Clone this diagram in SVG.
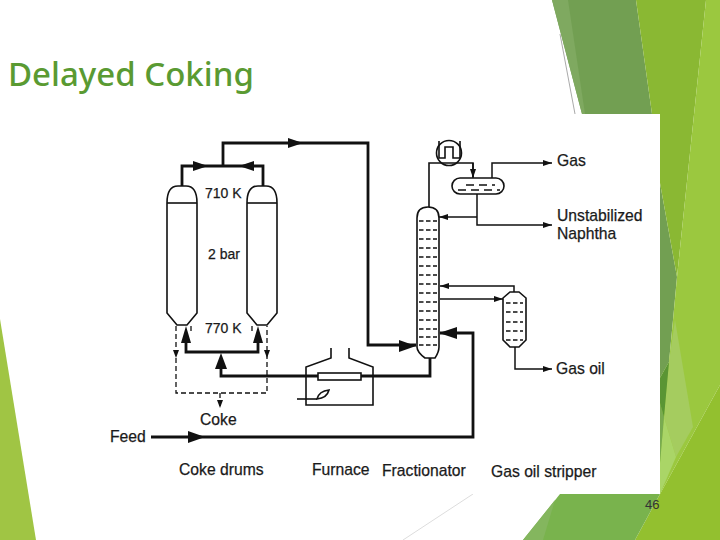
<svg xmlns="http://www.w3.org/2000/svg" width="720" height="540" viewBox="0 0 720 540">
<defs>
<marker id="a" markerUnits="userSpaceOnUse" markerWidth="10" markerHeight="8" refX="9" refY="4" orient="auto"><path d="M0 1 L9 4 L0 7Z" fill="#111"/></marker>
</defs>
<style>
.t{font-family:"Liberation Sans",Arial,sans-serif;font-size:15.7px;fill:#1a1a1a;stroke:#1a1a1a;stroke-width:.25}
.s{font-size:14px}
.v{fill:#fff;stroke:#111;stroke-width:1.6}
.th{fill:none;stroke:#111;stroke-width:2.8}
.m{fill:none;stroke:#111;stroke-width:1.6}
.n{fill:none;stroke:#111;stroke-width:1.5;marker-end:url(#a)}
.d{fill:none;stroke:#111;stroke-width:1.3;stroke-dasharray:5 3}
.tray{fill:none;stroke:#111;stroke-width:1.4;stroke-dasharray:4.5 2.5}
.h{fill:#111}
</style>
<rect width="720" height="540" fill="#fff"/>
<g id="decor">
<polygon points="0,319 0,540 36,540" fill="#a0c544"/>
<polygon points="552,0 636,0 652,114 660,183 677,277 673,320 669,362 660,378 660,114 582,114" fill="#729f52"/>
<polygon points="552,0 568,0 585,114 582,114" fill="#7fa960"/>
<polygon points="636,0 706,0 677,277 660,183 660,114 652,114" fill="#8ab833"/>
<polygon points="706,0 720,0 720,385 660,494 660,378 669,362 673,320 677,277" fill="#9bc83f"/>
<polygon points="720,385 720,540 635,540 660,494" fill="#93c02f"/>
<polygon points="675,320 693,427 676,457 664,417 669,362" fill="#a5cc5f"/>
<polygon points="664,417 676,457 660,494 660,463" fill="#aad567"/>
<polygon points="660,403 664,417 660,463" fill="#79ab50"/>
<polygon points="660,378 669,362 664,417 660,403" fill="#5a9534"/>
<polygon points="523,540 560,494 660,494 635,540" fill="#79b34d"/>
<polygon points="523,540 555,500 543,540" fill="#84b65e"/>
<line x1="560" y1="34" x2="575" y2="114" stroke="#aaa" stroke-width="1"/>
<line x1="403" y1="540" x2="473" y2="494" stroke="#ddd" stroke-width="1"/>
<rect x="130" y="114" width="530" height="380" fill="#fff"/>
</g>
<text id="title" x="8" y="86" font-family="Noto Sans,sans-serif" font-size="33" font-weight="500" fill="#5a9a32">Delayed Coking</text>
<text id="page" x="645" y="509" font-family="Liberation Sans,sans-serif" font-size="13" fill="#333">46</text>
<g id="condenser">
<circle cx="449" cy="153" r="12.5" class="v"/>
<path class="m" d="M439 141V158H445V147H453V158H460V141"/>
</g>
<g id="connectors">
<path class="th" d="M182 186V166H263V186M223 166V143H368V345H416"/>
<path class="th" d="M186 343V352H258V343M221 369V376H430V358"/>
<path class="th" d="M151 437H473V333H440"/>
<path class="m" d="M429 207V163H473V177"/>
<path class="n" d="M473 163V178"/>
<path class="n" d="M492 178V163H552"/>
<path class="n" d="M477 194V225H552"/>
<path class="n" d="M477 217H439"/>
<path class="n" d="M514 292V286H440"/>
<path class="n" d="M440 299H503"/>
<path class="n" d="M515 347V369H552"/>
<path class="d" d="M176 326V393H267V326"/>
<path class="d" d="M191 326V332M252 326V332"/>
<path class="d" d="M220 393V408"/>
<path class="h" d="M176 358l-3-8h6ZM267 358l-3-8h6ZM220 408l-3-8h6Z"/>
<path class="h" d="M288 138L303 143L288 148ZM193 161L208 166L193 171ZM254 161L239 166L254 171ZM186 326L191 343H181ZM258 326L263 343H253ZM221 353L227 369H215ZM399 340L416 346L399 352ZM439 333L457 327V339ZM188 431L205 437L188 443Z"/>
</g>
<g id="coke-drum-left">
<path class="v" d="M167 203Q167 186 178 186H186Q197 186 197 203V313L187 325H177L167 313Z"/>
<path class="m" d="M167 203H197" stroke-width="1"/>
</g>
<g id="coke-drum-right">
<path class="v" d="M247 203Q247 186 258 186H266Q277 186 277 203V313L267 325H257L247 313Z"/>
<path class="m" d="M247 203H277" stroke-width="1"/>
</g>
<g id="furnace">
<path class="m" d="M331 348V358L306 367V405H373V367L349 358V348"/>
<rect x="318" y="373" width="43" height="7" class="v"/>
<path class="m" d="M297 399H317"/>
<path class="m" d="M317 399Q319 391 329 390Q327 398 317 399Z"/>
</g>
<g id="fractionator">
<path class="v" d="M417 218Q417 207 428 207Q439 207 439 218V347Q439 352 435 358H425Q417 352 417 347Z"/>
<path class="tray" d="M419 221H437M419 230H437M419 239H437M419 248H437M419 257H437M419 266H437M419 275H437M419 284H437M419 293H437M419 302H437M419 311H437M419 320H437M419 329H437M419 337H437M419 345H437"/>
</g>
<g id="accumulator">
<rect x="452" y="178" width="52" height="16" rx="8" class="v"/>
<path class="tray" style="stroke-dasharray:8 5" d="M458 190H500M466 185H495"/>
</g>
<g id="stripper">
<path class="v" d="M503 298L510 292H519L526 298V340L519 347H510L503 340Z"/>
<path class="tray" d="M506 303H523M506 312H523M506 322H523M506 331H523M506 340H523"/>
</g>
<g id="labels">
<text class="t s" x="205" y="198">710 K</text>
<text class="t s" x="208" y="259">2 bar</text>
<text class="t s" x="205" y="333">770 K</text>
<text class="t" x="200" y="425">Coke</text>
<text class="t" x="110" y="442">Feed</text>
<text class="t" x="557" y="166">Gas</text>
<text class="t" x="557" y="221">Unstabilized</text>
<text class="t" x="557" y="239">Naphtha</text>
<text class="t" x="556" y="374">Gas oil</text>
<text class="t" x="179" y="475">Coke drums</text>
<text class="t" x="312" y="475">Furnace</text>
<text class="t" x="382" y="476">Fractionator</text>
<text class="t" x="491" y="477">Gas oil stripper</text>
</g>
</svg>
